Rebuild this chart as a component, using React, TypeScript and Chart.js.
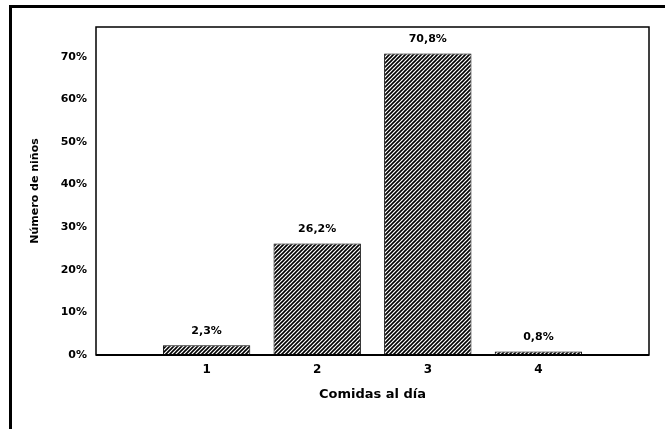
import React, { useEffect, useRef } from "react";
import { Chart, registerables } from "chart.js";

Chart.register(...registerables);

// ---- data ----
const categories: string[] = ["1", "2", "3", "4"];
const values: number[] = [2.3, 26.2, 70.8, 0.8];
const valueLabels: string[] = ["2,3%", "26,2%", "70,8%", "0,8%"];
const yTickValues: number[] = [0, 10, 20, 30, 40, 50, 60, 70];
const yTitle = "Número de niños";
const xTitle = "Comidas al día";

const FONT = "'DejaVu Sans', 'Liberation Sans', Arial, sans-serif";

function makeHatch(): CanvasPattern | string {
  const s = 4;
  const c = document.createElement("canvas");
  c.width = s;
  c.height = s;
  const ctx = c.getContext("2d");
  if (!ctx) return "#555";
  ctx.fillStyle = "#fff";
  ctx.fillRect(0, 0, s, s);
  ctx.strokeStyle = "#000";
  ctx.lineWidth = 1.6;
  ctx.beginPath();
  ctx.moveTo(0, s);
  ctx.lineTo(s, 0);
  ctx.moveTo(-1, 1);
  ctx.lineTo(1, -1);
  ctx.moveTo(s - 1, s + 1);
  ctx.lineTo(s + 1, s - 1);
  ctx.stroke();
  const p = ctx.createPattern(c, "repeat");
  return p || "#555";
}

export default function App() {
  const ref = useRef<HTMLCanvasElement | null>(null);

  useEffect(() => {
    if (!ref.current) return;
    const hatch = makeHatch();

    // pad category axis so that slots 0 and 5 are empty
    const labels = ["", ...categories, ""];
    const data: (number | null)[] = [null, ...values, null];

    const framePlugin = {
      id: "frame",
      beforeDraw(chart: any) {
        const ctx = chart.ctx;
        ctx.save();
        ctx.fillStyle = "#fff";
        ctx.fillRect(0, 0, chart.width, chart.height);
        ctx.fillStyle = "#000";
        // outer frame (top + left)
        ctx.fillRect(9, 5, chart.width - 9, 3);
        ctx.fillRect(9, 5, 3, chart.height - 5);
        ctx.restore();
      },
      afterDraw(chart: any) {
        const { left, top, right, bottom } = chart.chartArea;
        const ctx = chart.ctx;
        ctx.save();
        ctx.strokeStyle = "#000";
        ctx.lineWidth = 1.5;
        ctx.strokeRect(left, top, right - left, bottom - top);
        ctx.lineWidth = 2;
        ctx.beginPath();
        ctx.moveTo(left, bottom);
        ctx.lineTo(right, bottom);
        ctx.stroke();
        ctx.restore();
      },
      afterDatasetsDraw(chart: any) {
        const ctx = chart.ctx;
        const meta = chart.getDatasetMeta(0);
        ctx.save();
        ctx.fillStyle = "#000";
        ctx.font = `bold 11px ${FONT}`;
        ctx.textAlign = "center";
        ctx.textBaseline = "middle";
        meta.data.forEach((el: any, i: number) => {
          const idx = i - 1;
          if (idx < 0 || idx >= valueLabels.length) return;
          ctx.fillText(valueLabels[idx], el.x, el.y - 14);
        });
        ctx.restore();
      },
    };

    const chart = new Chart(ref.current, {
      type: "bar",
      data: {
        labels,
        datasets: [
          {
            data,
            backgroundColor: hatch as any,
            borderColor: "#000",
            borderWidth: 1,
            categoryPercentage: 0.79,
            barPercentage: 1,
          },
        ],
      },
      options: {
        responsive: false,
        animation: false,
        devicePixelRatio: 1,
        layout: { padding: { top: 27, right: 16, bottom: 0, left: 0 } },
        plugins: {
          legend: { display: false },
          tooltip: { enabled: false },
        },
        scales: {
          x: {
            type: "category",
            offset: false,
            grid: { display: false, drawTicks: false },
            border: { display: false },
            ticks: {
              color: "#000",
              font: { family: FONT, size: 12, weight: "bold" },
              padding: 8,
              autoSkip: false,
              maxRotation: 0,
            },
            title: {
              display: true,
              text: xTitle,
              color: "#000",
              font: { family: FONT, size: 13, weight: "bold" },
              padding: { top: 0, bottom: 27 },
            },
            afterFit(scale: any) {
              scale.height = 74;
            },
          },
          y: {
            min: 0,
            max: 77,
            grid: { display: false, drawTicks: false },
            border: { display: false },
            afterBuildTicks(scale: any) {
              scale.ticks = yTickValues.map((v) => ({ value: v }));
            },
            ticks: {
              color: "#000",
              font: { family: FONT, size: 11, weight: "bold" },
              padding: 9,
              callback: (v: any) => `${v}%`,
            },
            title: {
              display: true,
              text: yTitle,
              color: "#000",
              font: { family: FONT, size: 11, weight: "bold" },
              padding: { top: 29, bottom: 0 },
            },
            afterFit(scale: any) {
              scale.width = 96;
            },
          },
        },
      },
      plugins: [framePlugin],
    });

    return () => chart.destroy();
  }, []);

  return (
    <div
      style={{
        position: "fixed",
        left: 0,
        top: 0,
        width: 665,
        height: 429,
        background: "#fff",
      }}
    >
      <canvas ref={ref} width={665} height={429} style={{ display: "block" }} />
    </div>
  );
}
